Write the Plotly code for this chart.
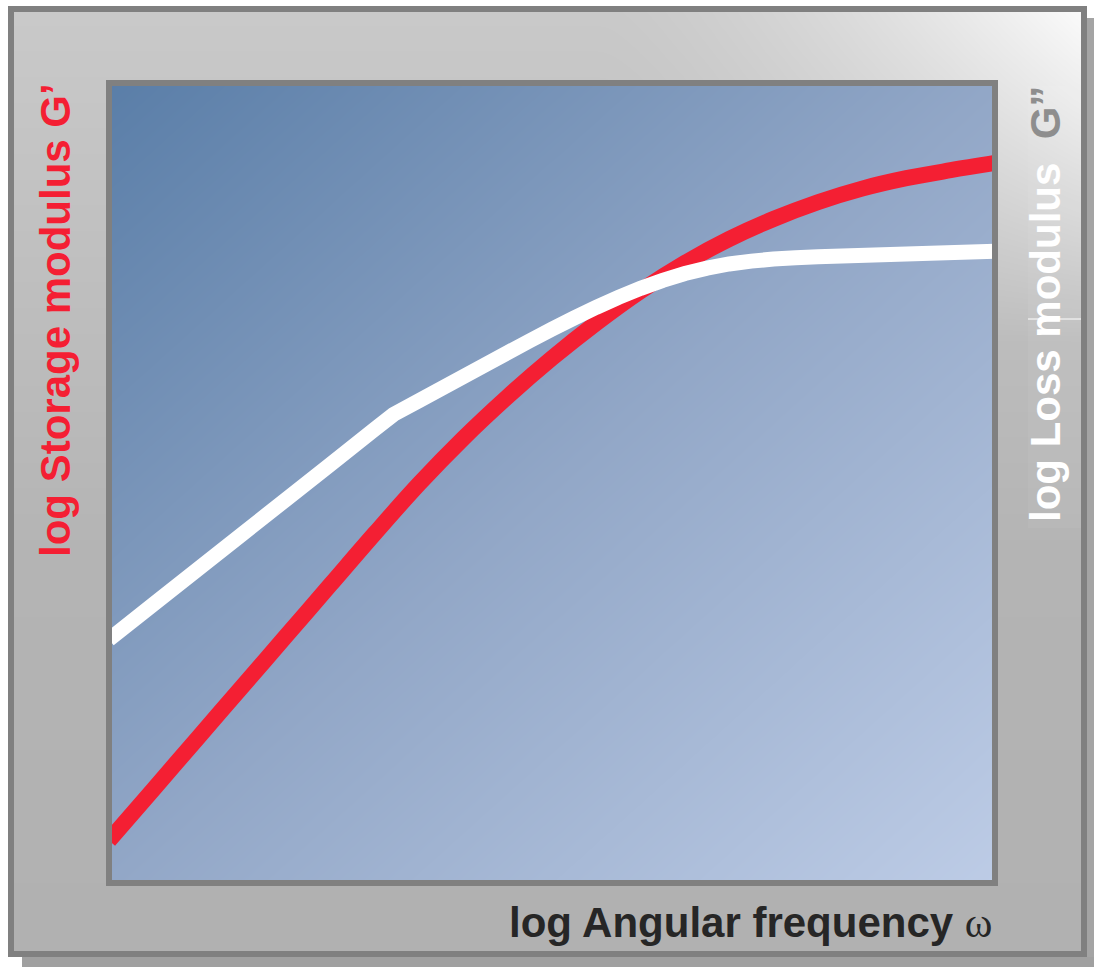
import numpy as np
import plotly.graph_objects as go

W, H = 1094, 967

# ---------------- data ----------------
log_omega_storage = [0, 0.5, 1, 1.5, 2, 2.5, 3, 3.5, 4, 4.5, 5, 5.5, 6, 6.5, 7, 7.5, 8, 8.5, 9, 9.5, 10]
log_G_storage = [0.53, 1.17, 1.81, 2.45, 3.09, 3.73, 4.37, 4.99, 5.56, 6.08, 6.56, 7.00, 7.40,
                 7.75, 8.05, 8.30, 8.51, 8.68, 8.81, 8.91, 9.00]

log_omega_loss = [0, 0.5, 1, 1.5, 2, 2.5, 3, 3.21, 3.5, 3.75, 4, 4.25, 4.5, 4.75, 5, 5.25, 5.5,
                  5.75, 6, 6.25, 6.5, 6.75, 7, 7.25, 7.5, 7.75, 8, 9, 10]
log_G_loss = [3.044, 3.482, 3.920, 4.358, 4.796, 5.234, 5.672, 5.856, 6.030, 6.180, 6.330, 6.480,
              6.630, 6.778, 6.923, 7.063, 7.196, 7.320, 7.433, 7.533, 7.618, 7.686, 7.738, 7.773,
              7.800, 7.816, 7.828, 7.863, 7.898]

x_title = "log Angular frequency"
y_left_title = "log Storage modulus G’"
y_right_title = "log Loss modulus  G”"

RED = "#f41f33"


def fx(p):
    return p / W


def fy(p):
    return 1 - p / H


fig = go.Figure()

# ---------------- decorative gray background (outer panel) ----------------
gx = np.linspace(14, 1081, 140)
gy = np.linspace(12, 951, 140)
GX, GY = np.meshgrid(gx, gy)
base = 201 - 21 * np.clip((GY - 12) / 540, 0, 1) - 3 * np.clip((GY - 550) / 400, 0, 1)
wx = np.clip((GX - 600) / 480, 0, 1) ** 1.5
wy = np.clip(1 - (GY - 12) / 330, 0, 1)
L = base + (250 - base) * wx * wy
fig.add_trace(go.Heatmap(
    x=gx, y=gy, z=L, zmin=170, zmax=255, zsmooth="best", showscale=False,
    colorscale=[[0, "rgb(170,170,170)"], [1, "rgb(255,255,255)"]],
    hoverinfo="skip", xaxis="x", yaxis="y"))

# ---------------- decorative blue gradient (plot area) ----------------
u = np.linspace(0, 1, 60)
v = np.linspace(0, 1, 60)
U, V = np.meshgrid(u, v)
fig.add_trace(go.Heatmap(
    x=u, y=v, z=U + V, zmin=0, zmax=2, zsmooth="best", showscale=False,
    colorscale=[[0, "rgb(90,126,168)"], [0.5, "rgb(146,167,199)"], [1, "rgb(189,204,230)"]],
    hoverinfo="skip", xaxis="x2", yaxis="y2"))

# ---------------- curves ----------------
fig.add_trace(go.Scatter(
    x=log_omega_storage, y=log_G_storage, mode="lines",
    line=dict(color=RED, width=16, shape="spline", smoothing=1.0, simplify=False),
    hoverinfo="skip", xaxis="x3", yaxis="y3", name="G'"))
fig.add_trace(go.Scatter(
    x=log_omega_loss, y=log_G_loss, mode="lines",
    line=dict(color="#ffffff", width=15, shape="linear", simplify=False),
    hoverinfo="skip", xaxis="x3", yaxis="y3", name="G''"))

hidden = dict(visible=False, fixedrange=True, showgrid=False, zeroline=False)
# plot area = centre line of the thick frame
px0, px1, py0, py1 = 109, 995, 83, 883

fig.update_layout(
    width=W, height=H,
    margin=dict(l=0, r=0, t=0, b=0),
    paper_bgcolor="white", plot_bgcolor="rgba(0,0,0,0)",
    showlegend=False,
    xaxis=dict(domain=[fx(14), fx(1081)], range=[14, 1081], **hidden),
    yaxis=dict(domain=[fy(951), fy(12)], range=[951, 12], **hidden),
    xaxis2=dict(domain=[fx(px0), fx(px1)], range=[0, 1], anchor="y2", **hidden),
    yaxis2=dict(domain=[fy(py1), fy(py0)], range=[1, 0], anchor="x2", **hidden),
    xaxis3=dict(overlaying="x2", range=[0, 10], anchor="y3", **hidden),
    yaxis3=dict(overlaying="y2", range=[0, 10], anchor="x3", **hidden),
)

shapes = []
# shadow
shapes.append(dict(type="rect", xref="paper", yref="paper", x0=fx(1087), x1=fx(1094), y0=fy(18), y1=fy(967),
                   fillcolor="#a4a4a4", line=dict(width=0), layer="above"))
shapes.append(dict(type="rect", xref="paper", yref="paper", x0=fx(22), x1=fx(1094), y0=fy(957), y1=fy(967),
                   fillcolor="#a0a0a0", line=dict(width=0), layer="above"))
# faint label box on the right
shapes.append(dict(type="rect", xref="paper", yref="paper", x0=fx(1028), x1=fx(1081), y0=fy(528), y1=fy(86),
                   fillcolor="rgba(255,255,255,0.05)", line=dict(width=0), layer="above"))
shapes.append(dict(type="line", xref="paper", yref="paper", x0=fx(1028), x1=fx(1082), y0=fy(319), y1=fy(319),
                   line=dict(color="white", width=1), layer="above"))
# outer frame
shapes.append(dict(type="rect", xref="paper", yref="paper", x0=fx(11), x1=fx(1084), y0=fy(954), y1=fy(9),
                   line=dict(color="#808080", width=6), fillcolor="rgba(0,0,0,0)", layer="above"))
# plot frame
shapes.append(dict(type="rect", xref="paper", yref="paper", x0=fx(109), x1=fx(995), y0=fy(883), y1=fy(83),
                   line=dict(color="#808080", width=6), fillcolor="rgba(0,0,0,0)", layer="above"))
fig.update_layout(shapes=shapes)

font = dict(family="Liberation Sans, Arial, sans-serif", size=42, weight="bold")
fig.add_annotation(
    xref="paper", yref="paper", x=fx(750), y=fy(922), xanchor="center", yanchor="middle",
    showarrow=False,
    text=x_title + " <span style='font-family:\"Liberation Serif\",serif;font-weight:normal'>ω</span>",
    font=dict(font, color="#262626"))
fig.add_annotation(
    xref="paper", yref="paper", x=fx(55), y=fy(320), xanchor="center", yanchor="middle",
    showarrow=False, textangle=-90, text=y_left_title, font=dict(font, color=RED))
fig.add_annotation(
    xref="paper", yref="paper", x=fx(1045), y=fy(304), xanchor="center", yanchor="middle",
    showarrow=False, textangle=-90,
    text="log Loss modulus  <span style='color:#8e8e8e'>G”</span>",
    font=dict(font, color="#ffffff"))

fig.write_html("out.html", config={"displayModeBar": False, "staticPlot": True},
               post_script="document.body.style.margin='0';document.body.style.padding='0';")
